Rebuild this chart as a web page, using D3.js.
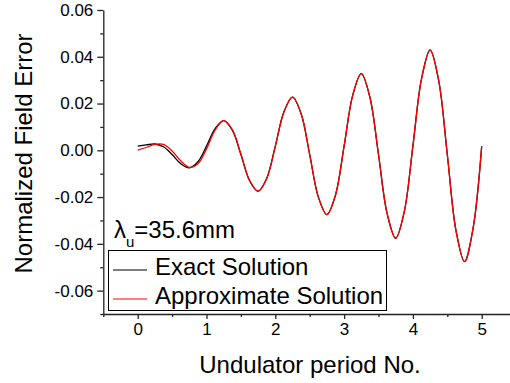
<!DOCTYPE html>
<html>
<head>
<meta charset="utf-8">
<script src="https://cdn.jsdelivr.net/npm/d3@7"></script>
<style>
  body { margin: 0; background: #fff; }
  text { font-family: Arial, "Liberation Sans", sans-serif; fill: #000; }
</style>
</head>
<body>
<div id="chart"></div>
<script>
// Field error along the undulator, exact vs approximate solution

// x positions (undulator period number), sampled every 1/8 period
const periodNo = [0, 0.125, 0.25, 0.375, 0.5, 0.625, 0.75, 0.875,
  1, 1.125, 1.25, 1.375, 1.5, 1.625, 1.75, 1.875,
  2, 2.125, 2.25, 2.375, 2.5, 2.625, 2.75, 2.875,
  3, 3.125, 3.25, 3.375, 3.5, 3.625, 3.75, 3.875,
  4, 4.125, 4.25, 4.375, 4.5, 4.625, 4.75, 4.875, 5];

// black curve
const exactValues = [0.0018, 0.0023, 0.0027, 0.0015, -0.0018, -0.0057, -0.0075, -0.0049,
  0.0018, 0.0093, 0.0127, 0.0086, -0.0018, -0.0129, -0.0175, -0.0120,
  0.0018, 0.0164, 0.0227, 0.0156, -0.0018, -0.0199, -0.0275, -0.0191,
  0.0018, 0.0235, 0.0328, 0.0227, -0.0018, -0.0270, -0.0376, -0.0262,
  0.0018, 0.0305, 0.0429, 0.0298, -0.0018, -0.0341, -0.0476, -0.0333, 0.0018];

// red curve (lags a little over the first period)
const approxValues = [0.0001, 0.0012, 0.0025, 0.0025, -0.0003, -0.0045, -0.0073, -0.0058,
  0.0006, 0.0086, 0.0127, 0.0089, -0.0016, -0.0128, -0.0175, -0.0121,
  0.0017, 0.0164, 0.0227, 0.0157, -0.0018, -0.0199, -0.0275, -0.0191,
  0.0018, 0.0235, 0.0328, 0.0227, -0.0018, -0.0270, -0.0376, -0.0262,
  0.0018, 0.0305, 0.0429, 0.0298, -0.0018, -0.0341, -0.0476, -0.0333, 0.0018];

const xTicks = [0, 1, 2, 3, 4, 5];
const xMinorTicks = [-0.5, 0.5, 1.5, 2.5, 3.5, 4.5, 5.5];
const yTicks = [-0.06, -0.04, -0.02, 0.00, 0.02, 0.04, 0.06];
const yMinorTicks = [-0.07, -0.05, -0.03, -0.01, 0.01, 0.03, 0.05];

const seriesNames = ["Exact Solution", "Approximate Solution"];
const seriesColors = ["#000000", "#ff0000"];

const width = 510, height = 383;

const svg = d3.select("#chart")
  .append("svg")
  .attr("width", width)
  .attr("height", height);

// scales
const x = d3.scaleLinear().domain([-0.5, 5.5]).range([103.3, 516.1]);
const y = d3.scaleLinear().domain([-0.07, 0.06]).range([314, 10]);

const fmt = d => d3.format(".2f")(d).replace("\u2212", "-");

// x axis (major + minor)
svg.append("g")
  .attr("transform", `translate(0,${y(-0.07)})`)
  .call(d3.axisBottom(x).tickValues(xTicks).tickSize(5).tickSizeOuter(0).tickPadding(4).tickFormat(d3.format("d")));
svg.append("g")
  .attr("transform", `translate(0,${y(-0.07)})`)
  .call(d3.axisBottom(x).tickValues(xMinorTicks).tickSize(3).tickSizeOuter(0).tickFormat(""))
  .select(".domain").remove();

// y axis (major + minor)
svg.append("g")
  .attr("transform", `translate(${x(-0.5)},0)`)
  .call(d3.axisLeft(y).tickValues(yTicks).tickSize(6).tickSizeOuter(0).tickPadding(4).tickFormat(fmt));
svg.append("g")
  .attr("transform", `translate(${x(-0.5)},0)`)
  .call(d3.axisLeft(y).tickValues(yMinorTicks).tickSize(3).tickSizeOuter(0).tickFormat(""))
  .select(".domain").remove();

svg.selectAll(".domain, .tick line").attr("stroke", "#222").attr("stroke-width", 1.3);
svg.selectAll(".tick text").style("font-size", "17px").attr("fill", "#000");

// curves
const line = d3.line()
  .x(d => x(d[0]))
  .y(d => y(d[1]))
  .curve(d3.curveCatmullRom.alpha(0.5));

[exactValues, approxValues].forEach((vals, i) => {
  svg.append("path")
    .datum(periodNo.map((p, k) => [p, vals[k]]))
    .attr("d", line)
    .attr("fill", "none")
    .attr("stroke", seriesColors[i])
    .attr("stroke-width", 1.3);
});

// axis titles
svg.append("text")
  .attr("x", 310)
  .attr("y", 373)
  .attr("text-anchor", "middle")
  .style("font-size", "24px")
  .text("Undulator period No.");

svg.append("text")
  .attr("transform", "translate(31.5,153.5) rotate(-90)")
  .attr("text-anchor", "middle")
  .style("font-size", "24px")
  .text("Normalized Field Error");

// period annotation
const lam = svg.append("text")
  .attr("x", 114)
  .attr("y", 238)
  .style("font-size", "24px");
lam.append("tspan").style("font-weight", "300").text("\u03bb");
lam.append("tspan").attr("dy", 9).style("font-size", "15px").text("u");
lam.append("tspan").attr("dy", -9).text("=35.6mm");

// legend
const legend = svg.append("g");
legend.append("rect")
  .attr("x", 108.5).attr("y", 250.5)
  .attr("width", 278).attr("height", 60)
  .attr("fill", "#fff")
  .attr("stroke", "#000")
  .attr("stroke-width", 1);

seriesNames.forEach((name, i) => {
  const ly = 270 + i * 29;
  legend.append("line")
    .attr("x1", 113).attr("x2", 147)
    .attr("y1", ly).attr("y2", ly)
    .attr("stroke", seriesColors[i])
    .attr("stroke-width", 1);
  legend.append("text")
    .attr("x", 155)
    .attr("y", ly + 5)
    .style("font-size", "24px")
    .text(name);
});
</script>
</body>
</html>
